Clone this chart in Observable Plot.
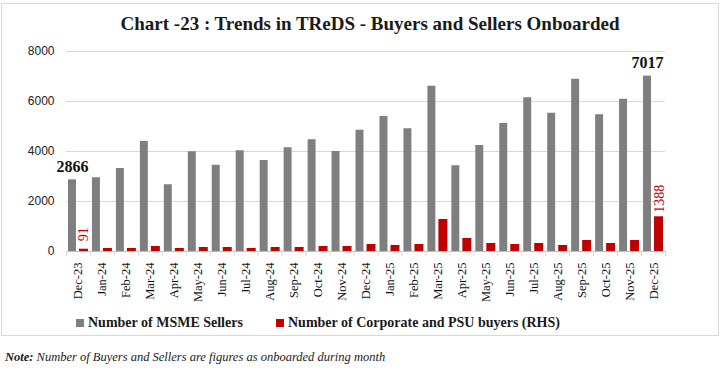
<!DOCTYPE html>
<html><head><meta charset="utf-8">
<script src="https://cdn.jsdelivr.net/npm/d3@7"></script>
<script src="https://cdn.jsdelivr.net/npm/@observablehq/plot@0.6"></script>
<style>
body{margin:0;background:#fff;}
#wrap{position:relative;width:728px;height:371px;overflow:hidden;background:#fff;}
#frame{position:absolute;left:1px;top:3px;width:718px;height:333px;border:1px solid #d9d9d9;box-sizing:border-box;}
#title{position:absolute;left:0;top:13px;width:740px;text-align:center;font:bold 19px "Liberation Serif",serif;color:#1a1a1a;}
#chart{position:absolute;left:0;top:40px;}
.leg{position:absolute;top:315px;font:bold 14px "Liberation Serif",serif;color:#1a1a1a;white-space:nowrap;}
.sw{display:inline-block;width:8px;height:8px;margin-right:4px;vertical-align:0px;}
#note{position:absolute;left:5px;top:350px;font:italic 12.5px "Liberation Serif",serif;color:#1a1a1a;white-space:nowrap;}
</style></head>
<body>
<div id="wrap">
<div id="frame"></div>
<div id="title">Chart -23 : Trends in TReDS - Buyers and Sellers Onboarded</div>
<div id="chart"></div>
<div class="leg" style="left:76px"><span class="sw" style="background:#7f7f7f"></span>Number of MSME Sellers</div>
<div class="leg" style="left:276px"><span class="sw" style="background:#c00000"></span>Number of Corporate and PSU buyers (RHS)</div>
<div id="note"><b>Note:</b> Number of Buyers and Sellers are figures as onboarded during month</div>
</div>
<script>
const months = ["Dec-23","Jan-24","Feb-24","Mar-24","Apr-24","May-24","Jun-24","Jul-24","Aug-24","Sep-24","Oct-24","Nov-24","Dec-24","Jan-25","Feb-25","Mar-25","Apr-25","May-25","Jun-25","Jul-25","Aug-25","Sep-25","Oct-25","Nov-25","Dec-25"];
const sellers = [2866,2950,3320,4400,2670,3990,3450,4030,3640,4150,4470,4000,4850,5400,4910,6610,3430,4240,5120,6150,5530,6890,5470,6090,7017];
const buyers = [91,120,120,200,120,160,160,120,160,160,200,200,280,240,280,1280,520,320,280,320,240,440,320,440,1388];
const yTicks = [0,2000,4000,6000,8000];
const sellerLabels = ["Dec-23","Dec-25"];
const buyerLabels = ["Dec-23","Dec-25"];

const data = months.map((m,i)=>({month:m, sellers:sellers[i], buyers:buyers[i]}));

const W = 728, ML = 66, MR = 63;
const bw = (W - ML - MR) / months.length;
const redLabelStyle = {x: "month", y: "buyers", text: d => String(d.buyers), dx: 5.5, rotate: -90, textAnchor: "start", fontSize: 14, fontFamily: "Liberation Serif, serif", fill: "#c00000"};

const chart = Plot.plot({
  width: W, height: 265,
  marginLeft: ML, marginRight: MR, marginTop: 11, marginBottom: 54,
  x: {domain: months, padding: 0, round: false, label: null},
  y: {domain: [0, 8000], label: null},
  style: {background: "transparent"},
  marks: [
    Plot.gridY(yTicks, {stroke: "#d9d9d9", strokeOpacity: 1}),
    Plot.axisY(yTicks, {tickSize: 0, tickPadding: 12, tickFormat: d3.format("d"), fontSize: 12, fontFamily: "Liberation Sans, sans-serif", fill: "#222", label: null}),
    Plot.barY(data, {x: "month", y: "sellers", fill: "#7f7f7f", insetLeft: 2, insetRight: 14}),
    Plot.barY(data, {x: "month", y: "buyers", fill: "#c00000", insetLeft: 13, insetRight: 2}),
    Plot.ruleY([0], {stroke: "#bfbfbf"}),
    Plot.axisX(months, {tickSize: 5, tickFormat: () => "", dx: -bw/2, stroke: "#d9d9d9", label: null}),
    Plot.axisX([months[months.length-1]], {tickSize: 5, tickFormat: () => "", dx: bw/2, stroke: "#d9d9d9", label: null}),
    Plot.axisX(months, {tickSize: 0, tickPadding: 11, tickRotate: -90, fontSize: 12.5, fontFamily: "Liberation Serif, serif", fill: "#111", label: null}),
    Plot.text(data.filter(d => sellerLabels.includes(d.month)), {x: "month", y: "sellers", text: d => String(d.sellers), dx: -6, dy: -8, lineAnchor: "bottom", fontSize: 16, fontWeight: "bold", fontFamily: "Liberation Serif, serif", fill: "#111"}),
    Plot.text(data.filter(d => d.month === buyerLabels[0]), {...redLabelStyle, dy: -8}),
    Plot.text(data.filter(d => d.month === buyerLabels[1]), {...redLabelStyle, dy: -4})
  ]
});
document.getElementById("chart").appendChild(chart);
</script>
</body></html>
